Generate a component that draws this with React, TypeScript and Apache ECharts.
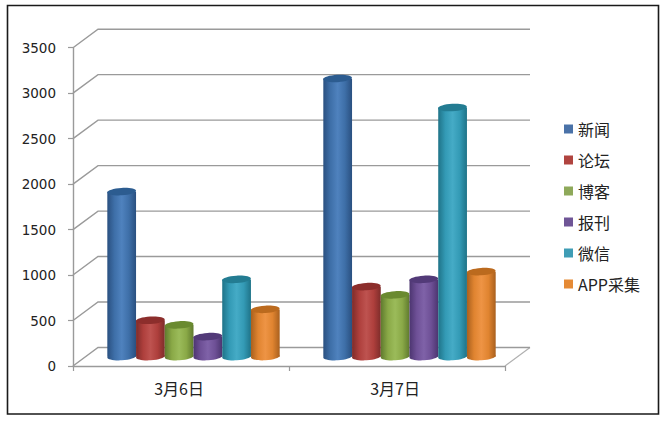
import React, { useEffect, useRef } from "react";
import * as echarts from "echarts";

const categories = ["3月6日", "3月7日"];
const tickValues = [0, 500, 1000, 1500, 2000, 2500, 3000, 3500];
const news = [1815, 3060];
const forum = [400, 770];
const blog = [350, 680];
const press = [220, 850];
const wechat = [850, 2740];
const app = [520, 935];

const seriesNames = ["新闻", "论坛", "博客", "报刊", "微信", "APP采集"];
const seriesValues = [news, forum, blog, press, wechat, app];
const legendColors = ["#4A72A8", "#B0443F", "#8EA95A", "#6F5596", "#3F9DB5", "#E58A35"];
const palettes = [
  { edge: "#2A5080", base: "#3E6FA8", light: "#4F82BE", top: "#2C5C90" },
  { edge: "#7E2C2A", base: "#AE3F3C", light: "#BE5350", top: "#8C2E2C" },
  { edge: "#5F7A2E", base: "#8AA947", light: "#9BBB5A", top: "#6A8A30" },
  { edge: "#4C3570", base: "#6E5096", light: "#7F62A8", top: "#523A78" },
  { edge: "#1F7388", base: "#339AB5", light: "#45ABC6", top: "#237C92" },
  { edge: "#A9601E", base: "#E08430", light: "#EE9445", top: "#BB6A1E" },
];

const DEPTH_X = 25;
const DEPTH_Y = -18.5;

export default function App() {
  const ref = useRef<HTMLDivElement>(null);
  useEffect(() => {
    document.body.style.margin = "0";
    const chart = echarts.init(ref.current!, undefined, { renderer: "svg" });
    const wall = {
      type: "custom",
      silent: true,
      z: 1,
      data: tickValues.map((v) => [0, v]),
      encode: { x: 0, y: 1 },
      renderItem: (params: any, api: any) => {
        const sys = params.coordSys;
        const y = api.coord([0, api.value(1)])[1];
        const x0 = sys.x;
        const x1 = sys.x + sys.width;
        const stroke = "#9a9a9a";
        const children: any[] = [
          {
            type: "polyline",
            shape: {
              points: [
                [x0, y],
                [x0 + DEPTH_X, y + DEPTH_Y],
                [x1 + DEPTH_X, y + DEPTH_Y],
              ],
            },
            style: { stroke, lineWidth: 1.4, fill: "none" },
          },
        ];
        if (api.value(1) === 0) {
          children.unshift({
            type: "polyline",
            shape: {
              points: [
                [x1 + DEPTH_X, y + DEPTH_Y],
                [x1, y],
              ],
            },
            style: { stroke: "#b0b0b0", lineWidth: 1.2, fill: "none" },
          });
        }
        return { type: "group", children };
      },
    };
    const bars = seriesNames.map((name, si) => ({
      type: "custom",
      name,
      z: 2,
      itemStyle: { color: legendColors[si] },
      data: seriesValues[si].map((v, c) => [c, v]),
      encode: { x: 0, y: 1 },
      renderItem: (_: any, api: any) => {
        const band = api.size([1, 0])[0];
        const w = band * 0.133;
        const rx = w / 2;
        const ry = 3.7;
        const [cx0, yBase] = api.coord([api.value(0), 0]);
        const yTop = api.coord([api.value(0), api.value(1)])[1];
        const cx = cx0 + DEPTH_X / 2 + (si - 2.5) * w;
        const by = yBase + DEPTH_Y / 2;
        const ty = yTop + DEPTH_Y / 2;
        const p = palettes[si];
        const grad = {
          type: "linear",
          x: 0,
          y: 0,
          x2: 1,
          y2: 0,
          colorStops: [
            { offset: 0, color: p.edge },
            { offset: 0.25, color: p.base },
            { offset: 0.5, color: p.light },
            { offset: 0.75, color: p.base },
            { offset: 1, color: p.edge },
          ],
        };
        const rotation = 0.06;
        return {
          type: "group",
          children: [
            {
              type: "ellipse",
              shape: { cx, cy: by, rx, ry },
              rotation,
              originX: cx,
              originY: by,
              style: { fill: grad },
            },
            {
              type: "rect",
              shape: { x: cx - rx, y: ty, width: w, height: by - ty },
              style: { fill: grad },
            },
            {
              type: "ellipse",
              shape: { cx, cy: ty, rx, ry },
              rotation,
              originX: cx,
              originY: ty,
              style: { fill: p.top },
            },
          ],
        };
      },
    }));
    chart.setOption({
      animation: false,
      backgroundColor: "#fff",
      textStyle: { fontFamily: "'Noto Sans CJK SC', 'DejaVu Sans', sans-serif" },
      graphic: [
        {
          type: "rect",
          shape: { x: 7.5, y: 5.5, width: 651, height: 408.5 },
          style: { fill: "none", stroke: "#1a1a1a", lineWidth: 1.6 },
          z: 0,
        },
      ],
      grid: { left: 73, right: 163, top: 47.7, bottom: 56 },
      xAxis: {
        type: "category",
        data: categories,
        axisLine: { lineStyle: { color: "#9a9a9a", width: 1.4 } },
        axisTick: { show: true, length: 5, lineStyle: { color: "#9a9a9a", width: 1.2 } },
        axisLabel: { color: "#222", fontSize: 16, margin: 14, padding: [0, 4, 0, 0] },
        splitLine: { show: false },
        z: 3,
      },
      yAxis: {
        type: "value",
        min: 0,
        max: 3500,
        interval: 500,
        axisLine: { show: true, lineStyle: { color: "#9a9a9a", width: 1.4 } },
        axisTick: { show: true, length: 5, lineStyle: { color: "#9a9a9a", width: 1.2 } },
        axisLabel: {
          color: "#222",
          fontSize: 13.5,
          fontFamily: "DejaVu Sans",
          margin: 17,
          formatter: (v: number) => String(v),
        },
        splitLine: { show: false },
      },
      legend: {
        orient: "vertical",
        left: 559,
        top: 116,
        data: seriesNames,
        icon: "rect",
        itemWidth: 9,
        itemHeight: 9,
        itemGap: 15,
        textStyle: { color: "#222", fontSize: 16 },
      },
      series: [wall, ...bars],
    });
    return () => chart.dispose();
  }, []);
  return <div ref={ref} style={{ width: 668, height: 422 }} />;
}
